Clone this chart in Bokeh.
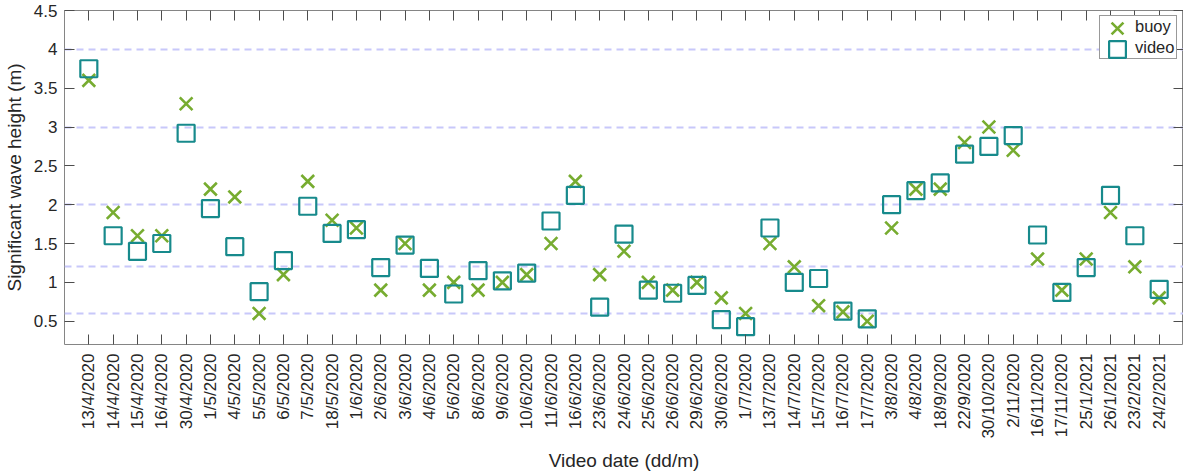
import math

from bokeh.plotting import figure
from bokeh.models import (CustomLabelingPolicy, FixedTicker, LinearAxis, Legend,
                          LegendItem, Range1d)
from bokeh.embed import file_html
from bokeh.resources import INLINE

# Survey dates (dd/m/yyyy) and significant wave heights (m)
dates = [
    "13/4/2020", "14/4/2020", "15/4/2020", "16/4/2020", "30/4/2020",
    "1/5/2020", "4/5/2020", "5/5/2020", "6/5/2020", "7/5/2020",
    "18/5/2020", "1/6/2020", "2/6/2020", "3/6/2020", "4/6/2020",
    "5/6/2020", "8/6/2020", "9/6/2020", "10/6/2020", "11/6/2020",
    "16/6/2020", "23/6/2020", "24/6/2020", "25/6/2020", "26/6/2020",
    "29/6/2020", "30/6/2020", "1/7/2020", "13/7/2020", "14/7/2020",
    "15/7/2020", "16/7/2020", "17/7/2020", "3/8/2020", "4/8/2020",
    "18/9/2020", "22/9/2020", "30/10/2020", "2/11/2020", "16/11/2020",
    "17/11/2020", "25/1/2021", "26/1/2021", "23/2/2021", "24/2/2021",
]

buoy = [
    3.6, 1.9, 1.6, 1.6, 3.3, 2.2, 2.1, 0.6, 1.1, 2.3,
    1.8, 1.7, 0.9, 1.5, 0.9, 1.0, 0.9, 1.0, 1.1, 1.5,
    2.3, 1.1, 1.4, 1.0, 0.9, 1.0, 0.8, 0.6, 1.5, 1.2,
    0.7, 0.62, 0.5, 1.7, 2.2, 2.2, 2.8, 3.0, 2.7, 1.3,
    0.9, 1.3, 1.9, 1.2, 0.8,
]

video = [
    3.75, 1.6, 1.4, 1.5, 2.92, 1.95, 1.46, 0.88, 1.28, 1.98,
    1.63, 1.68, 1.19, 1.48, 1.18, 0.85, 1.15, 1.02, 1.12, 1.79,
    2.12, 0.68, 1.62, 0.9, 0.86, 0.96, 0.52, 0.43, 1.7, 1.0,
    1.05, 0.63, 0.53, 2.0, 2.18, 2.28, 2.65, 2.75, 2.89, 1.61,
    0.87, 1.19, 2.12, 1.6, 0.91,
]

y_ticks = [0.5, 1, 1.5, 2, 2.5, 3, 3.5, 4, 4.5]
y_tick_labels = ["0.5", "1", "1.5", "2", "2.5", "3", "3.5", "4", "4.5"]

# dashed reference levels
ref_levels = [0.6, 1.2, 2, 3, 4]

GREEN = "#77AC30"
TEAL = "#178A8C"
FONT = "Liberation Sans"
TEXT = "#262626"
SPINE = "#858585"
TICK = "#4d4d4d"

positions = list(range(1, len(dates) + 1))

p = figure(
    width=1183, height=473,
    output_backend="svg", toolbar_location=None,
    x_range=Range1d(0, len(dates) + 1), y_range=Range1d(0.2, 4.5),
    min_border_left=62, min_border_right=0, min_border_top=10, min_border_bottom=125,
    x_axis_label="Video date (dd/m)", y_axis_label="Significant wave height (m)",
)
p.background_fill_color = "white"
p.border_fill_color = "white"
p.outline_line_color = SPINE
p.outline_line_width = 1

# grid: only the dashed reference levels
p.xgrid.visible = False
p.ygrid.ticker = FixedTicker(ticks=ref_levels)
p.ygrid.grid_line_color = "#c8c8fa"
p.ygrid.grid_line_width = 2
p.ygrid.grid_line_dash = "7 5"


def style_axis(ax):
    ax.axis_line_color = None
    ax.major_tick_in = 10
    ax.major_tick_out = 0
    ax.minor_tick_in = 0
    ax.minor_tick_out = 0
    ax.major_tick_line_color = TICK
    ax.major_tick_line_width = 1
    ax.major_label_text_font = FONT
    ax.major_label_text_font_size = "17px"
    ax.major_label_text_color = TEXT
    ax.axis_label_text_font = FONT
    ax.axis_label_text_font_size = "19px"
    ax.axis_label_text_font_style = "normal"
    ax.axis_label_text_color = TEXT


x_overrides = {pos: lab for pos, lab in zip(positions, dates)}
y_overrides = {t: lab for t, lab in zip(y_ticks, y_tick_labels)}

xax = p.xaxis[0]
style_axis(xax)
xax.ticker = FixedTicker(ticks=positions)
xax.major_label_overrides = x_overrides
xax.major_label_orientation = math.pi / 2
xax.major_label_standoff = 9
xax.axis_label_standoff = 8

yax = p.yaxis[0]
style_axis(yax)
yax.ticker = FixedTicker(ticks=y_ticks)
yax.major_label_overrides = y_overrides
yax.major_label_standoff = 7
yax.axis_label_standoff = 6

# mirrored tick marks (no labels) on the top and right edges of the box
for ticks, side in ((positions, "above"), (y_ticks, "right")):
    mirror = LinearAxis(ticker=FixedTicker(ticks=ticks))
    style_axis(mirror)
    mirror.major_label_text_font_size = "0px"
    mirror.major_label_standoff = 0
    mirror.major_label_policy = CustomLabelingPolicy(code="return []")
    p.add_layout(mirror, side)

r_buoy = p.scatter(positions, buoy, marker="x", size=18,
                   line_color=GREEN, line_width=2.6)
r_video = p.scatter(positions, video, marker="square", size=17,
                    line_color=TEAL, fill_color=None, line_width=2.2)

# legend box with the series names
key_box = Legend(
    items=[LegendItem(label="buoy", renderers=[]),
           LegendItem(label="video", renderers=[])],
    location=(1035, 285), margin=0,
    padding=0, spacing=0,
    glyph_width=32, glyph_height=21,
    label_standoff=3, label_width=41, label_height=21,
    label_text_font=FONT, label_text_font_size="16.5px", label_text_color=TEXT,
    border_line_color="#333333", border_line_width=1,
    background_fill_color="white", background_fill_alpha=1,
)
p.add_layout(key_box)

# full-size marker keys drawn over the box, one per series
for rend, loc in ((r_buoy, (1032, 295)), (r_video, (1032, 274))):
    key = Legend(
        items=[LegendItem(label="", renderers=[rend])],
        location=loc, margin=0, padding=0, spacing=0,
        glyph_width=42, glyph_height=42,
        label_standoff=0, label_width=0, label_height=0,
        border_line_color=None, background_fill_alpha=0,
    )
    p.add_layout(key)

open("out.html", "w").write(file_html(p, INLINE))
